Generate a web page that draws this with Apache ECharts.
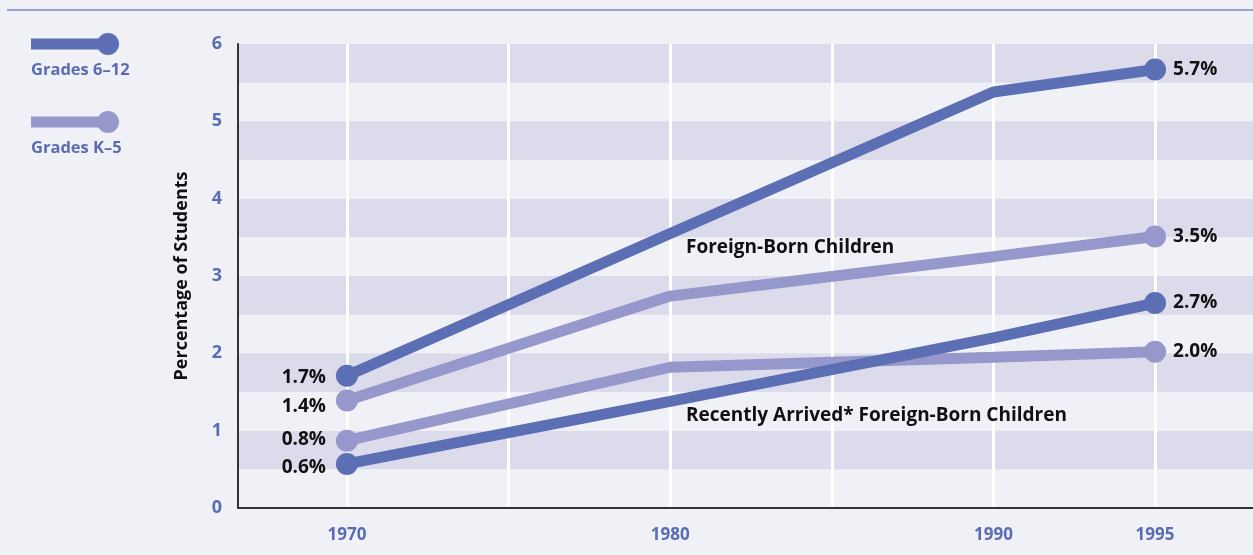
<!DOCTYPE html>
<html>
<head>
<meta charset="utf-8">
<script src="https://cdn.jsdelivr.net/npm/echarts@6/dist/echarts.min.js"></script>
<style>
  html, body { margin: 0; padding: 0; background: #f0f0f7; }
  #chart { width: 1253px; height: 555px; }
</style>
</head>
<body>
<div id="chart"></div>
<script>
// data
var years = [1970, 1980, 1990, 1995]
var foreign612 = [1.71, 3.55, 5.38, 5.67]
var foreignK5 = [1.39, 2.74, 3.25, 3.51]
var recent612 = [0.57, 1.38, 2.2, 2.65]
var recentK5 = [0.87, 1.82, 1.95, 2.02]
// printed end labels
var foreign612Labels = ['1.7%', '5.7%']
var foreignK5Labels = ['1.4%', '3.5%']
var recent612Labels = ['0.6%', '2.7%']
var recentK5Labels = ['0.8%', '2.0%']
var gridYears = [1970, 1975, 1980, 1985, 1990, 1995]
var labelYears = [1970, 1980, 1990, 1995]

var dark = '#5c6eb4'
var light = '#9698cb'
var blueText = '#5a6db4'
var font = '"Open Sans", "Noto Sans", sans-serif'

function makeSeries(name, vals, texts, color, startDy) {
  var last = years.length - 1
  var data = years.map(function (y, i) {
    var item = { value: [y, vals[i]], symbolSize: 0, label: { show: false } }
    if (i === 0) {
      item.symbolSize = 22
      item.label = { show: true, position: 'left', distance: 10, offset: [0, startDy], formatter: texts[0] }
    } else if (i === last) {
      item.symbolSize = 22
      item.label = { show: true, position: 'right', distance: 7, formatter: texts[1] }
    }
    return item
  })
  return {
    name: name,
    type: 'line',
    data: data,
    symbol: 'circle',
    lineStyle: { color: color, width: 11 },
    itemStyle: { color: color },
    label: {
      fontFamily: font,
      fontWeight: 'bold',
      fontSize: 19,
      color: '#111'
    },
    z: color === dark ? 4 : 3,
    silent: true
  }
}

var chart = echarts.init(document.getElementById('chart'))
chart.setOption({
  backgroundColor: '#f0f0f7',
  animation: false,
  grid: { left: 238, right: 0, top: 44, bottom: 47 },
  xAxis: {
    type: 'value',
    min: 1966.63,
    max: 1998.03,
    axisLine: { show: true, onZero: false, lineStyle: { color: '#333', width: 2 } },
    axisTick: { show: false, customValues: gridYears },
    axisLabel: {
      customValues: labelYears,
      formatter: function (v) { return String(v) },
      color: blueText,
      fontFamily: font,
      fontWeight: 'bold',
      fontSize: 17,
      margin: 19
    },
    splitLine: { show: true, lineStyle: { color: '#ffffff', width: 3 } }
  },
  yAxis: {
    type: 'value',
    min: 0,
    max: 6,
    interval: 0.5,
    name: 'Percentage of Students',
    nameLocation: 'middle',
    nameGap: 47,
    nameTextStyle: { color: '#111', fontFamily: font, fontWeight: 'bold', fontSize: 18 },
    axisLine: { show: true, lineStyle: { color: '#333', width: 2 } },
    axisTick: { show: false },
    axisLabel: {
      color: blueText,
      fontFamily: font,
      fontWeight: 'bold',
      fontSize: 18,
      margin: 16,
      formatter: function (v) { return v % 1 === 0 ? String(v) : '' }
    },
    splitLine: { show: false },
    splitArea: { show: true, areaStyle: { color: ['#f0f0f7', '#dcdbec'] } }
  },
  graphic: [
    { type: 'line', shape: { x1: 7, y1: 10, x2: 1253, y2: 10 }, style: { stroke: '#9aa4d4', lineWidth: 2 } },
    // legend
    { type: 'line', shape: { x1: 31, y1: 44, x2: 108, y2: 44 }, style: { stroke: dark, lineWidth: 11 } },
    { type: 'circle', shape: { cx: 108, cy: 44, r: 11 }, style: { fill: dark } },
    { type: 'text', left: 31, top: 62, style: { text: 'Grades 6–12', fill: blueText, font: 'bold 16.5px ' + font } },
    { type: 'line', shape: { x1: 31, y1: 122, x2: 108, y2: 122 }, style: { stroke: light, lineWidth: 11 } },
    { type: 'circle', shape: { cx: 108, cy: 122, r: 11 }, style: { fill: light } },
    { type: 'text', left: 31, top: 140, style: { text: 'Grades K–5', fill: blueText, font: 'bold 16.5px ' + font } },
    // annotations
    { type: 'text', left: 686, top: 238, z: 10, style: { text: 'Foreign-Born Children', fill: '#111', font: 'bold 19px ' + font } },
    { type: 'text', left: 686, top: 406, z: 10, style: { text: 'Recently Arrived* Foreign-Born Children', fill: '#111', font: 'bold 19px ' + font } }
  ],
  series: [
    makeSeries('Grades K–5 foreign', foreignK5, foreignK5Labels, light, 6),
    makeSeries('Grades K–5 recent', recentK5, recentK5Labels, light, -1),
    makeSeries('Grades 6–12 foreign', foreign612, foreign612Labels, dark, 2),
    makeSeries('Grades 6–12 recent', recent612, recent612Labels, dark, 4)
  ]
})
</script>
</body>
</html>
